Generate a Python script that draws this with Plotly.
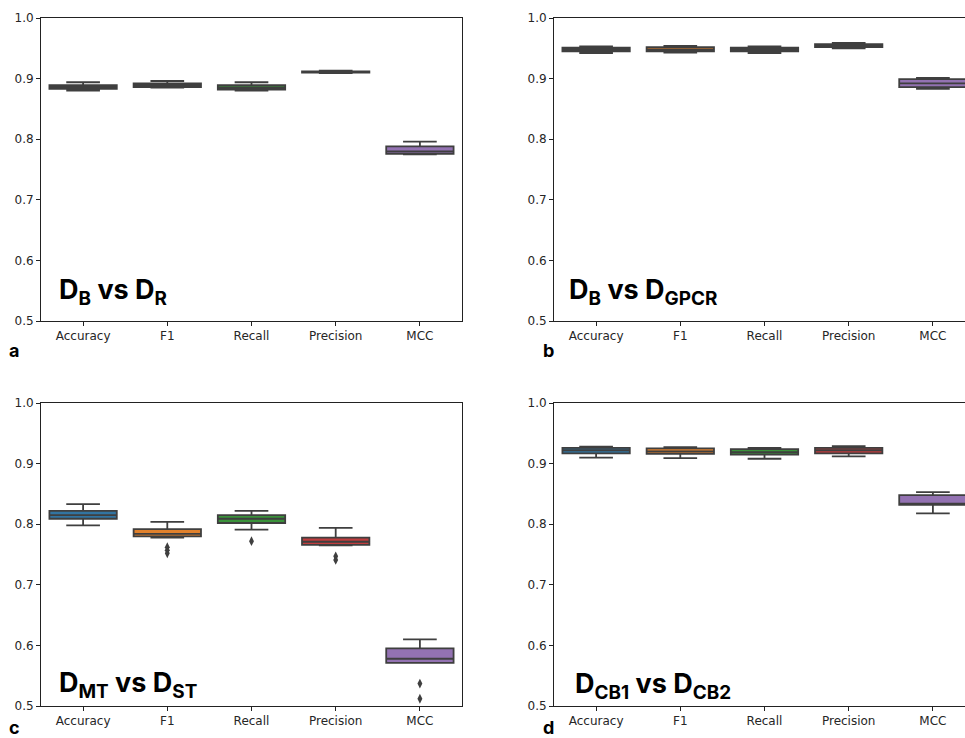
import plotly.graph_objects as go

W, H = 965, 738

categories = ["Accuracy", "F1", "Recall", "Precision", "MCC"]
colors = ["#3274a1", "#e1812c", "#3a923a", "#c03d3e", "#9372b2"]

# Panel a: D_B vs D_R
a_lo  = [0.880, 0.885, 0.880, 0.909, 0.775]
a_q1  = [0.883, 0.886, 0.882, 0.910, 0.776]
a_med = [0.886, 0.889, 0.885, 0.911, 0.780]
a_q3  = [0.889, 0.892, 0.889, 0.912, 0.788]
a_hi  = [0.894, 0.896, 0.894, 0.913, 0.796]
a_out = [[], [], [], [], []]

# Panel b: D_B vs D_GPCR
b_lo  = [0.942, 0.943, 0.942, 0.950, 0.883]
b_q1  = [0.945, 0.945, 0.945, 0.952, 0.886]
b_med = [0.948, 0.948, 0.948, 0.955, 0.892]
b_q3  = [0.951, 0.952, 0.951, 0.957, 0.899]
b_hi  = [0.953, 0.954, 0.953, 0.959, 0.901]
b_out = [[], [], [], [], []]

# Panel c: D_MT vs D_ST
c_lo  = [0.798, 0.778, 0.791, 0.765, 0.571]
c_q1  = [0.809, 0.780, 0.802, 0.766, 0.571]
c_med = [0.815, 0.784, 0.809, 0.771, 0.578]
c_q3  = [0.822, 0.792, 0.815, 0.778, 0.595]
c_hi  = [0.833, 0.804, 0.822, 0.794, 0.610]
c_out = [[], [0.762, 0.757, 0.752], [0.772], [0.747, 0.741], [0.537, 0.512]]

# Panel d: D_CB1 vs D_CB2
d_lo  = [0.910, 0.909, 0.908, 0.912, 0.818]
d_q1  = [0.917, 0.916, 0.915, 0.917, 0.832]
d_med = [0.922, 0.920, 0.919, 0.922, 0.834]
d_q3  = [0.926, 0.925, 0.924, 0.926, 0.848]
d_hi  = [0.928, 0.927, 0.926, 0.929, 0.853]
d_out = [[], [], [], [], []]

panel_titles = ["<b>D<sub>B</sub> vs D<sub>R</sub></b>",
                "<b>D<sub>B</sub> vs D<sub>GPCR</sub></b>",
                "<b>D<sub>MT</sub> vs D<sub>ST</sub></b>",
                "<b>D<sub>CB1</sub> vs D<sub>CB2</sub></b>"]
panel_letters = ["a", "b", "c", "d"]

y_ticks = [0.5, 0.6, 0.7, 0.8, 0.9, 1.0]

panels = [
    (a_lo, a_q1, a_med, a_q3, a_hi, a_out),
    (b_lo, b_q1, b_med, b_q3, b_hi, b_out),
    (c_lo, c_q1, c_med, c_q3, c_hi, c_out),
    (d_lo, d_q1, d_med, d_q3, d_hi, d_out),
]

# pixel boxes of the plot areas: (x0, x1, ytop, ybottom)
boxes = [(41, 462, 18, 321), (554, 965, 18, 321),
         (41, 462, 403, 706), (554, 965, 403, 706)]
unit = (462 - 41) / 5.0

def px(x):
    return x / W

def py(y):
    return 1 - y / H

EDGE = "#3f3f3f"
fig = go.Figure()
layout = dict(width=W, height=H, margin=dict(l=0, r=0, t=0, b=0, autoexpand=False),
              paper_bgcolor="white", plot_bgcolor="white",
              showlegend=False, boxmode="overlay",
              font=dict(family="DejaVu Sans", size=12, color="#262626"))

for i, (lo, q1, med, q3, hi, out) in enumerate(panels):
    n = i + 1
    xa = "x" if n == 1 else f"x{n}"
    ya = "y" if n == 1 else f"y{n}"
    for j, cat in enumerate(categories):
        fig.add_trace(go.Box(
            x=[cat], q1=[q1[j]], median=[med[j]], q3=[q3[j]],
            lowerfence=[lo[j]], upperfence=[hi[j]],
            width=0.8, whiskerwidth=0.5,
            fillcolor=colors[j], line=dict(color=EDGE, width=1.8),
            boxpoints=False, xaxis=xa, yaxis=ya, hoverinfo="skip"))
        if out[j]:
            fig.add_trace(go.Scatter(
                x=[cat] * len(out[j]), y=out[j], mode="markers",
                marker=dict(symbol="diamond-tall", size=7, color=EDGE),
                xaxis=xa, yaxis=ya, hoverinfo="skip"))
    x0, x1, yt, yb = boxes[i]
    xr = [-0.5, -0.5 + (x1 - x0) / unit]
    right_cut = x1 >= W
    layout["xaxis" if n == 1 else f"xaxis{n}"] = dict(
        domain=[px(x0), px(x1)], anchor=ya, type="category",
        categoryorder="array", categoryarray=categories,
        range=xr, showgrid=False, zeroline=False, automargin=False,
        showline=True, linecolor="#222", linewidth=1,
        mirror=True, ticks="outside", ticklen=4, tickcolor="#222",
        ticklabelstandoff=0,
        tickfont=dict(size=12, color="#262626"))
    layout["yaxis" if n == 1 else f"yaxis{n}"] = dict(
        domain=[py(yb), py(yt)], anchor=xa, range=[0.5, 1.0],
        tickvals=y_ticks, ticktext=[f"{v:.1f}" for v in y_ticks],
        showgrid=False, zeroline=False, automargin=False,
        showline=True, linecolor="#222", linewidth=1,
        mirror=(False if right_cut else True),
        ticks="outside", ticklen=4, tickcolor="#222",
        tickfont=dict(size=12, color="#262626"))

annotations = []
title_pos = [(57, 292), (567, 292), (57, 684), (573, 685)]
for (x, y), t in zip(title_pos, panel_titles):
    annotations.append(dict(x=px(x), y=py(y), xref="paper", yref="paper",
                            text=t, showarrow=False, xanchor="left",
                            yanchor="middle",
                            font=dict(family="Inter", size=27, color="black")))
letter_pos = [(14, 350), (548, 350), (14, 727), (548, 727)]
for (x, y), t in zip(letter_pos, panel_letters):
    annotations.append(dict(x=px(x), y=py(y), xref="paper", yref="paper",
                            text=f"<b>{t}</b>", showarrow=False,
                            xanchor="center", yanchor="middle", borderpad=0,
                            font=dict(family="Inter", size=18, color="black")))
layout["annotations"] = annotations

fig.update_layout(**layout)
fig.write_html("out.html",
               config={"displayModeBar": False},
               post_script="document.body.style.margin='0';"
                           "document.body.style.overflow='hidden';")
